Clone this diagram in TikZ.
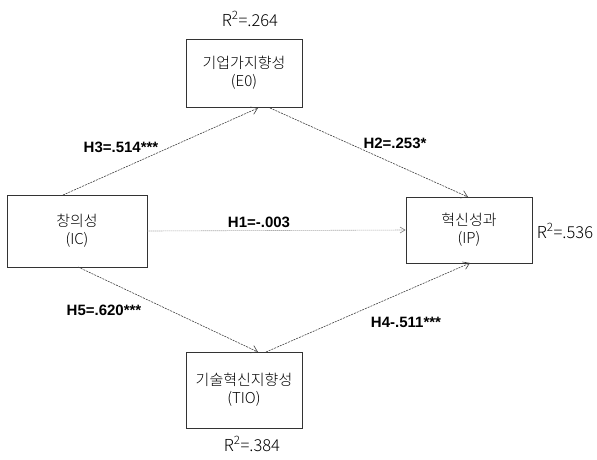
\documentclass[tikz,border=0pt]{standalone}
\usepackage{fontspec}
\setmainfont{Liberation Sans}
\newfontfamily\krl{Noto Sans CJK KR Light}
\usetikzlibrary{arrows.meta}
\begin{document}
\begin{tikzpicture}[x=1pt,y=-1pt,
  box/.style={draw=black!80,line width=0.8pt,minimum width=#1,minimum height=68pt,align=center,font=\krl\fontsize{15}{18}\selectfont,inner sep=0pt},
  box/.default=116pt,
  conn/.style={line width=0.6pt,black!75,dash pattern=on 2pt off 1pt,-{Straight Barb[length=6pt,width=8pt]}},
  dotconn/.style={line width=0.6pt,black!50,dash pattern=on 1pt off 1pt,-{Straight Barb[length=5pt,width=6pt]}},
  hlab/.style={font=\bfseries\fontsize{15}{17}\selectfont,inner sep=1pt},
  rlab/.style={font=\krl\fontsize{16.5}{18}\selectfont,inner sep=1pt}]
\useasboundingbox (0,0) rectangle (597,459);
\node[box=116pt] (eo) at (244,73) {기업가지향성\\(E0)};
\node[box=140pt,minimum height=72pt] (ic) at (77,231) {창의성\\(IC)};
\node[box=126pt,minimum height=66pt] (ip) at (469,230) {혁신성과\\(IP)};
\node[box=116pt,minimum height=76pt] (tio) at (244,390) {기술혁신지향성\\(TIO)};
\node[rlab] (r1) at (250,19) {R\textsuperscript{2}=.264};
\node[rlab] (r2) at (565,231) {R\textsuperscript{2}=.536};
\node[rlab] (r3) at (252,444) {R\textsuperscript{2}=.384};
\coordinate (icT) at (63,195);
\coordinate (icB) at (78,267);
\coordinate (eoB1) at (258,108);
\coordinate (eoB2) at (270,108);
\coordinate (ipT) at (468,197);
\coordinate (ipB) at (470,263);
\coordinate (tioT1) at (258,352);
\coordinate (tioT2) at (266,352);
\draw[conn] (icT) -- (eoB1);
\draw[conn] (eoB2) -- (ipT);
\draw[dotconn] (ic.east) -- (ip.west);
\draw[conn] (icB) -- (tioT1);
\draw[conn] (tioT2) -- (ipB);
\node[hlab] (h3) at (121,147) {H3=.514***};
\node[hlab] (h2) at (395,143) {H2=.253*};
\node[hlab] (h1) at (259,222) {H1=-.003};
\node[hlab] (h5) at (104,310) {H5=.620***};
\node[hlab] (h4) at (406,322) {H4-.511***};
\end{tikzpicture}
\end{document}
